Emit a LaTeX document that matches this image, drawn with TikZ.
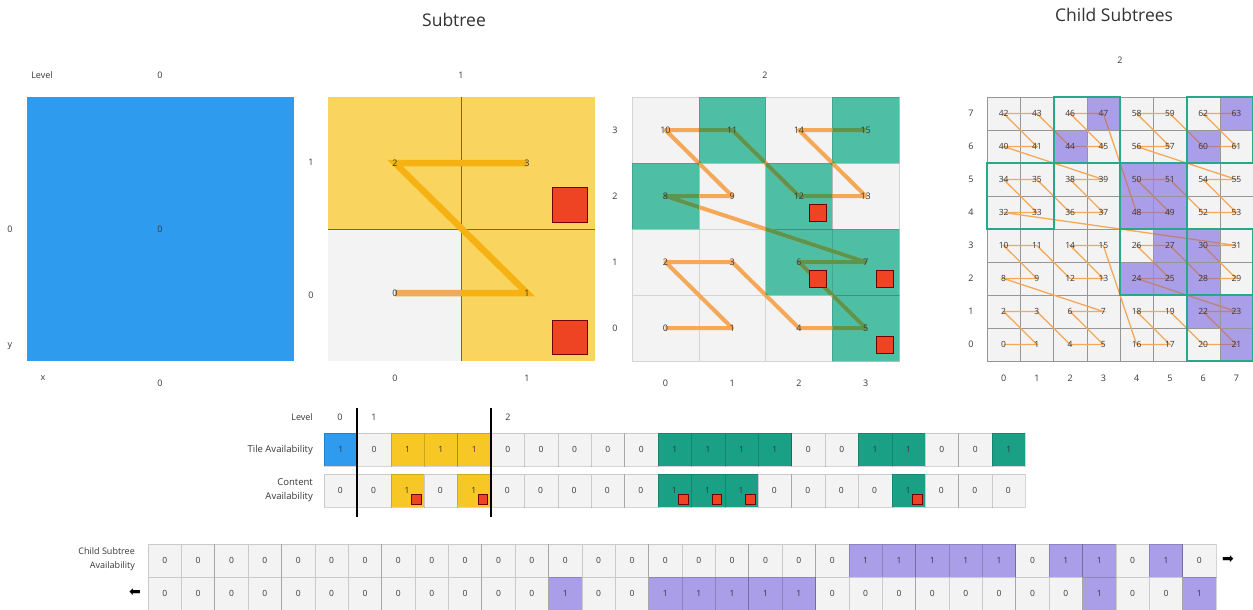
\documentclass[tikz,border=0pt]{standalone}
\usepackage{fontspec}
\setmainfont{Open Sans}
\newfontfamily\symfont{DejaVu Sans}
\pgfdeclarelayer{back}
\pgfdeclarelayer{lines}
\pgfsetlayers{back,lines,main}
\definecolor{tblue}{RGB}{47,155,239}
\definecolor{pyellow}{RGB}{249,213,96}
\definecolor{ayellow}{RGB}{247,199,38}
\definecolor{pteal}{RGB}{78,190,165}
\definecolor{ateal}{RGB}{26,160,132}
\definecolor{cgray}{RGB}{243,243,243}
\definecolor{cborder}{RGB}{212,212,212}
\definecolor{gborder}{RGB}{150,150,150}
\definecolor{tred}{RGB}{239,68,36}
\definecolor{tpurple}{RGB}{170,158,232}
\definecolor{lorange}{RGB}{244,168,88}
\definecolor{amber}{RGB}{245,178,18}
\definecolor{olive}{RGB}{92,150,78}
\definecolor{mauve}{RGB}{178,128,146}
\definecolor{boxteal}{RGB}{40,168,138}
\definecolor{txt}{RGB}{55,55,55}
\tikzset{
  lbl/.style={font=\fontsize{9}{10}\selectfont, text=txt, inner sep=0pt},
  num/.style={font=\fontsize{9}{10}\selectfont, text=txt, inner sep=0pt},
  cnum/.style={font=\fontsize{8.5}{9}\selectfont, text=txt, inner sep=0pt},
  bitnum/.style={font=\fontsize{8.5}{9}\selectfont, text=txt, inner sep=0pt},
  ttl/.style={font=\fontsize{17.5}{20}\selectfont, text=black!80, inner sep=0pt},
  redsq/.style={fill=tred, draw=black!55!red, line width=0.5pt},
  bitcell/.style={draw=black, draw opacity=0.17, line width=0.6pt},
  arrowsym/.style={font=\symfont\fontsize{14}{15}\selectfont, text=black, inner sep=0pt},
}
\begin{document}
\begin{tikzpicture}[x=1pt,y=-1pt]
\useasboundingbox (0,0) rectangle (1253,610);
\begin{pgfonlayer}{back}
\fill[white] (0,0) rectangle (1253,610);
\end{pgfonlayer}

% titles
\node[ttl] (tSub) at (454,20) {Subtree};
\node[ttl] (tChild) at (1114,15) {Child Subtrees};

% ---------- Level 0 ----------
\node[lbl] (lvlWord) at (42,75) {Level};
\node[lbl] (lvl0) at (160,75) {0};
\begin{pgfonlayer}{back}
\fill[tblue] (27,97) rectangle (294,361);
\end{pgfonlayer}
\node[num] (L0n0) at (160,229) {0};
\node[lbl] (L0y0) at (10,229) {0};
\node[lbl] (L0y) at (10,346) {y};
\node[lbl] (L0x) at (43,378) {x};
\node[lbl] (L0x0) at (160,383) {0};

% ---------- Level 1 ----------
\node[lbl] (lvl1) at (461,75) {1};
\begin{pgfonlayer}{back}
\fill[cgray] (328,229) rectangle (461,361);
\fill[pyellow] (328,97) rectangle (461,229);
\fill[pyellow] (461,97) rectangle (595,361);
\draw[black!60, line width=0.6pt] (461,97) -- (461,361) (328,229) -- (595,229);
\end{pgfonlayer}
\draw[redsq] (552,187) rectangle (587,222);
\draw[redsq] (552,320) rectangle (587,354);
\node[num] (L1n0) at (395,293) {0};
\node[num] (L1n1) at (527,293) {1};
\node[num] (L1n2) at (395,163) {2};
\node[num] (L1n3) at (527,163) {3};
\node[lbl] (L1y1) at (311,162) {1};
\node[lbl] (L1y0) at (311,295) {0};
\node[lbl] (L1x0) at (395,378) {0};
\node[lbl] (L1x1) at (527,378) {1};
\begin{pgfonlayer}{lines}
\draw[amber, line width=6.5pt] (L1n0.center) -- (L1n1.center) -- (L1n2.center) -- (L1n3.center);
\begin{scope}
\clip (328,229) rectangle (461,361);
\draw[lorange, line width=6.5pt] (L1n0.center) -- (L1n1.center);
\end{scope}
\end{pgfonlayer}

% ---------- Level 2 ----------
\node[lbl] (lvl2) at (765,75) {2};
\begin{pgfonlayer}{back}
\foreach \cx in {0,...,3} \foreach \cy in {0,...,3}
  \filldraw[fill=cgray, draw=cborder, line width=0.5pt] ({632+66.75*\cx},{361-66*\cy}) rectangle +(66.75,-66);
\foreach \cx/\cy in {3/0,2/1,3/1,0/2,1/3,2/2,3/3}
  \filldraw[fill=pteal, draw=black, draw opacity=0.12, line width=0.5pt] ({632+66.75*\cx},{361-66*\cy}) rectangle +(66.75,-66);
\end{pgfonlayer}
\foreach \i in {0,...,15}{
  \pgfmathtruncatemacro\cx{mod(\i,2)+2*mod(int(\i/4),2)}
  \pgfmathtruncatemacro\cy{mod(int(\i/2),2)+2*mod(int(\i/8),2)}
  \node[num] (L2n\i) at ({665.4+66.75*\cx},{328-66*\cy}) {\i};
}
\foreach \cx/\cy in {3/0,2/1,3/1,2/2}
  \draw[redsq] ({632+66.75*\cx+43.75},{361-66*\cy-25}) rectangle +(17,17);
\foreach \r [count=\k from 0] in {0,1,2,3}{
  \node[lbl] (L2y\r) at (615,{328-66*\k}) {\r};
  \node[lbl] (L2x\r) at ({665.4+66.75*\k},383) {\r};
}
\begin{pgfonlayer}{lines}
\draw[lorange, line width=4pt, line join=round] (L2n0.center) \foreach \i in {1,...,15}{ -- (L2n\i.center)};
\begin{scope}
\clip \foreach \cx/\cy in {3/0,2/1,3/1,0/2,1/3,2/2,3/3}{ ({632+66.75*\cx},{361-66*\cy}) rectangle +(66.75,-66) };
\draw[olive, line width=4pt, line join=round] (L2n0.center) \foreach \i in {1,...,15}{ -- (L2n\i.center)};
\end{scope}
\end{pgfonlayer}

% ---------- Child subtrees ----------
\node[lbl] (lvlC) at (1120,60) {2};
\begin{pgfonlayer}{back}
\foreach \cx in {0,...,7} \foreach \cy in {0,...,7}
  \filldraw[fill=cgray, draw=gborder, line width=0.5pt] ({987+33.25*\cx},{361-33*\cy}) rectangle +(33.25,-33);
\foreach \cx/\cy in {7/0,6/1,7/1,4/2,5/2,5/3,6/2,6/3,2/6,3/7,4/4,5/4,4/5,5/5,6/6,7/7}
  \filldraw[fill=tpurple, draw=gborder, line width=0.5pt] ({987+33.25*\cx},{361-33*\cy}) rectangle +(33.25,-33);
\end{pgfonlayer}
\foreach \i in {0,...,63}{
  \pgfmathtruncatemacro\cx{mod(\i,2)+2*mod(int(\i/4),2)+4*mod(int(\i/16),2)}
  \pgfmathtruncatemacro\cy{mod(int(\i/2),2)+2*mod(int(\i/8),2)+4*mod(int(\i/32),2)}
  \node[cnum] (CNn\i) at ({1003.6+33.25*\cx},{344.5-33*\cy}) {\i};
}
\foreach \r in {0,...,7}{
  \node[lbl] (Cy\r) at (971,{344.5-33*\r}) {\r};
  \node[lbl] (Cx\r) at ({1003.6+33.25*\r},378) {\r};
}
\begin{pgfonlayer}{lines}
\draw[lorange, line width=1.3pt] (CNn0.center) \foreach \i in {1,...,63}{ -- (CNn\i.center)};
\begin{scope}
\clip \foreach \cx/\cy in {7/0,6/1,7/1,4/2,5/2,5/3,6/2,6/3,2/6,3/7,4/4,5/4,4/5,5/5,6/6,7/7}{ ({987+33.25*\cx},{361-33*\cy}) rectangle +(33.25,-33) };
\draw[mauve, line width=1.3pt] (CNn0.center) \foreach \i in {1,...,63}{ -- (CNn\i.center)};
\end{scope}
\foreach \bx/\by in {3/0,2/1,3/1,0/2,1/3,2/2,3/3}
  \draw[boxteal, line width=2pt] ({987+66.5*\bx},{361-66*\by}) rectangle +(66.5,-66);
\end{pgfonlayer}

% ---------- Tile / content availability ----------
\node[lbl, anchor=east] (bLevel) at (313,417) {Level};
\node[lbl] (bL0) at (340,417) {0};
\node[lbl] (bL1) at (374,417) {1};
\node[lbl] (bL2) at (508,417) {2};
\node[lbl, anchor=east, font=\fontsize{9.5}{10}\selectfont] (tileLbl) at (313,450) {Tile Availability};
\node[lbl, anchor=east, align=right, font=\fontsize{9.5}{14}\selectfont] (contLbl) at (313,490.5) {Content\\Availability};
\foreach \v/\c [count=\k from 0] in {1/tblue,0/cgray,1/ayellow,1/ayellow,1/ayellow,0/cgray,0/cgray,0/cgray,0/cgray,0/cgray,1/ateal,1/ateal,1/ateal,1/ateal,0/cgray,0/cgray,1/ateal,1/ateal,0/cgray,0/cgray,1/ateal}{
  \begin{pgfonlayer}{back}
  \fill[\c] ({324+33.4*\k},433) rectangle +(33.4,33);
  \draw[bitcell] ({324+33.4*\k},433) rectangle +(33.4,33);
  \end{pgfonlayer}
  \node[bitnum] (TAb\k) at ({340.7+33.4*\k},449.5) {\v};
}
\foreach \v/\c [count=\k from 0] in {0/cgray,0/cgray,1/ayellow,0/cgray,1/ayellow,0/cgray,0/cgray,0/cgray,0/cgray,0/cgray,1/ateal,1/ateal,1/ateal,0/cgray,0/cgray,0/cgray,0/cgray,1/ateal,0/cgray,0/cgray,0/cgray}{
  \begin{pgfonlayer}{back}
  \fill[\c] ({324+33.4*\k},474) rectangle +(33.4,33);
  \draw[bitcell] ({324+33.4*\k},474) rectangle +(33.4,33);
  \end{pgfonlayer}
  \node[bitnum] (CAb\k) at ({340.2+33.4*\k},490) {\v};
}
\foreach \k in {2,4,10,11,12,17}
  \draw[redsq, line width=0.4pt] ({324+33.4*\k+20.5},494.5) rectangle +(9.5,9.5);
\draw[black, line width=1.4pt] (357,408) -- (357,517);
\draw[black, line width=1.4pt] (491,408) -- (491,517);

% ---------- Child subtree availability ----------
\node[lbl, anchor=east, align=right, font=\fontsize{9}{14}\selectfont] (csLbl) at (135,559) {Child Subtree\\Availability};
\foreach \v [count=\k from 0] in {0,0,0,0,0,0,0,0,0,0,0,0,0,0,0,0,0,0,0,0,0,1,1,1,1,1,0,1,1,0,1,0}{
  \ifnum\v=1 \def\cc{tpurple}\else\def\cc{cgray}\fi
  \begin{pgfonlayer}{back}
  \fill[\cc] ({148+33.375*\k},544) rectangle +(33.375,33);
  \draw[bitcell] ({148+33.375*\k},544) rectangle +(33.375,33);
  \end{pgfonlayer}
  \node[bitnum] (CSa\k) at ({164.7+33.375*\k},560.5) {\v};
}
\foreach \v [count=\k from 0] in {0,0,0,0,0,0,0,0,0,0,0,0,1,0,0,1,1,1,1,1,0,0,0,0,0,0,0,0,1,0,0,1}{
  \ifnum\v=1 \def\cc{tpurple}\else\def\cc{cgray}\fi
  \begin{pgfonlayer}{back}
  \fill[\cc] ({148+33.375*\k},577) rectangle +(33.375,33);
  \draw[bitcell] ({148+33.375*\k},577) rectangle +(33.375,33);
  \end{pgfonlayer}
  \node[bitnum] (CSb\k) at ({164.7+33.375*\k},593.5) {\v};
}
\node[arrowsym] (arrR) at (1228,560) {➡};
\node[arrowsym] (arrL) at (135,593) {⬅};
\end{tikzpicture}
\end{document}
